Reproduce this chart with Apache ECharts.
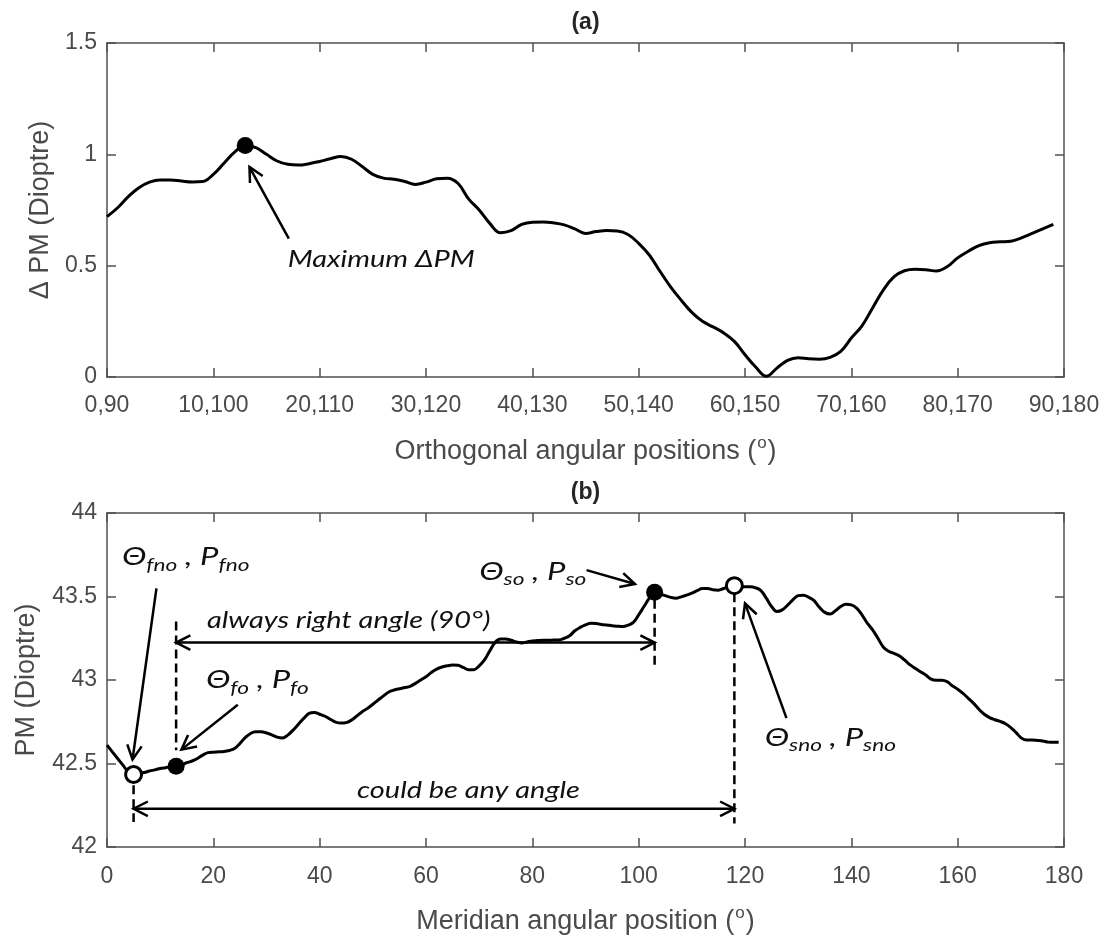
<!DOCTYPE html>
<html>
<head>
<meta charset="utf-8">
<script src="https://cdn.jsdelivr.net/npm/echarts@6/dist/echarts.min.js"></script>
<style>
  html, body { margin: 0; padding: 0; background: #fff; }
  #chart { width: 1112px; height: 940px; }
</style>
</head>
<body>
<div id="chart"></div>
<script>
// (a) Power difference between orthogonal meridians, first meridian 0..89 deg
const orthAngles = Array.from({ length: 90 }, (_, i) => i);
const deltaPM = [
  0.72, 0.76, 0.81, 0.85, 0.875, 0.885, 0.885, 0.88, 0.876, 0.878,
  0.91, 0.96, 1.01, 1.04, 1.03, 1.0, 0.97, 0.955, 0.952, 0.958,
  0.968, 0.98, 0.99, 0.978, 0.945, 0.91, 0.893, 0.888, 0.878, 0.865,
  0.875, 0.89, 0.893, 0.87, 0.80, 0.75, 0.69, 0.648, 0.657, 0.685,
  0.695, 0.696, 0.692, 0.683, 0.665, 0.645, 0.653, 0.658, 0.656, 0.64,
  0.60, 0.548, 0.475, 0.405, 0.345, 0.29, 0.25, 0.225, 0.198, 0.16,
  0.10, 0.045, 0.003, 0.04, 0.075, 0.087, 0.082, 0.08, 0.088, 0.115,
  0.175, 0.23, 0.31, 0.39, 0.45, 0.477, 0.484, 0.482, 0.476, 0.495,
  0.535, 0.565, 0.59, 0.603, 0.607, 0.61, 0.625, 0.645, 0.665, 0.685
];

// (b) Meridional power, 0..179 deg
const meridianAngles = Array.from({ length: 180 }, (_, i) => i);
const meridianPM = [
  42.61, 42.57, 42.53, 42.49, 42.45, 42.434, 42.44, 42.446, 42.455, 42.462,
  42.47, 42.475, 42.48, 42.483, 42.49, 42.505, 42.515, 42.53, 42.55, 42.565,
  42.568, 42.57, 42.572, 42.578, 42.59, 42.62, 42.655, 42.68, 42.69, 42.69,
  42.683, 42.672, 42.658, 42.653, 42.67, 42.70, 42.735, 42.77, 42.80, 42.806,
  42.795, 42.783, 42.765, 42.748, 42.742, 42.745, 42.76, 42.785, 42.81, 42.83,
  42.855, 42.88, 42.905, 42.928, 42.94, 42.948, 42.955, 42.962, 42.98, 43.0,
  43.02, 43.045, 43.065, 43.078, 43.085, 43.09, 43.088, 43.075, 43.062, 43.062,
  43.085, 43.12, 43.175, 43.225, 43.245, 43.245, 43.238, 43.228, 43.222, 43.228,
  43.234, 43.236, 43.238, 43.238, 43.239, 43.24, 43.25, 43.265, 43.295, 43.315,
  43.33, 43.34, 43.338, 43.333, 43.33, 43.325, 43.322, 43.32, 43.328, 43.345,
  43.39, 43.44, 43.49, 43.525, 43.515, 43.505, 43.495, 43.49, 43.498, 43.508,
  43.52, 43.535, 43.548, 43.548, 43.54, 43.538, 43.548, 43.56, 43.565, 43.562,
  43.558, 43.558, 43.552, 43.535, 43.49, 43.44, 43.41, 43.42, 43.448, 43.48,
  43.505, 43.508, 43.495, 43.475, 43.435, 43.405, 43.395, 43.415, 43.44, 43.453,
  43.45, 43.43, 43.39, 43.34, 43.30, 43.25, 43.198, 43.172, 43.16, 43.145,
  43.12, 43.092, 43.07, 43.05, 43.03, 43.005, 42.998, 42.998, 42.99, 42.965,
  42.945, 42.92, 42.89, 42.86, 42.825, 42.795, 42.775, 42.762, 42.752, 42.738,
  42.715, 42.685, 42.652, 42.64, 42.64, 42.638, 42.635, 42.628, 42.627, 42.627
];

// Tick labels
const orthTickLabels = ['0,90', '10,100', '20,110', '30,120', '40,130', '50,140', '60,150', '70,160', '80,170', '90,180'];
const deltaTickLabels = ['0', '0.5', '1', '1.5'];
const meridianTickLabels = ['0', '20', '40', '60', '80', '100', '120', '140', '160', '180'];
const pmTickLabels = ['42', '42.5', '43', '43.5', '44'];

// Marked meridians (degrees)
const maxDeltaAngle = 13;
const firstOrthAngle = 13;      // θfo
const secondOrthAngle = 103;    // θso
const firstNonOrthAngle = 5;    // θfno
const secondNonOrthAngle = 118; // θsno

const AXIS_GREY = '#505050';
const TEXT_GREY = '#4a4a4a';
const SANS = "'Liberation Sans', Arial, sans-serif";
const NOTE = "Lato, 'Open Sans', 'Noto Sans', sans-serif";
const NOTE_STRETCH = 1.26;

const axisLine = { show: true, onZero: false, lineStyle: { color: AXIS_GREY, width: 1.5 } };
const axisTick = { show: true, inside: true, length: 9, lineStyle: { color: AXIS_GREY, width: 1.5 } };
const tickLabel = { color: TEXT_GREY, fontSize: 23, fontFamily: SANS };

function superName(text) {
  return '{n|' + text + ' (}{s|o}{n|)}';
}
const nameRich = {
  n: { fontSize: 27, color: TEXT_GREY, fontFamily: SANS, lineHeight: 34 },
  s: { fontSize: 17, color: TEXT_GREY, fontFamily: SANS, lineHeight: 34, padding: [0, 1, 18, 1] }
};

function xPair(grid, min, max, interval, labels, name, labelMargin) {
  return [
    {
      gridIndex: grid, type: 'value', position: 'bottom', min, max, interval,
      axisLine, axisTick, splitLine: { show: false },
      axisLabel: Object.assign({ margin: labelMargin, formatter: v => labels[Math.round((v - min) / interval)] }, tickLabel),
      name: superName(name), nameLocation: 'middle', nameGap: 58,
      nameTextStyle: { rich: nameRich }
    },
    {
      gridIndex: grid, type: 'value', position: 'top', min, max, interval,
      axisLine, axisTick, axisLabel: { show: false }, splitLine: { show: false }
    }
  ];
}
function yPair(grid, min, max, interval, labels, name, gap) {
  return [
    {
      gridIndex: grid, type: 'value', position: 'left', min, max, interval,
      axisLine, axisTick, splitLine: { show: false },
      axisLabel: Object.assign({ margin: 10, formatter: v => labels[Math.round((v - min) / interval)] }, tickLabel),
      name, nameLocation: 'middle', nameGap: gap,
      nameTextStyle: { fontSize: 27, color: TEXT_GREY, fontFamily: SANS }
    },
    {
      gridIndex: grid, type: 'value', position: 'right', min, max, interval,
      axisLine, axisTick, axisLabel: { show: false }, splitLine: { show: false }
    }
  ];
}

const curveStyle = { color: '#000', width: 3 };

const option = {
  animation: false,
  backgroundColor: '#fff',
  grid: [
    { left: 107, top: 43, width: 957, height: 334, containLabel: false, outerBoundsMode: 'none' },
    { left: 107, top: 513, width: 957, height: 334, containLabel: false, outerBoundsMode: 'none' }
  ],
  xAxis: [
    ...xPair(0, 0, 90, 10, orthTickLabels, 'Orthogonal angular positions', 17),
    ...xPair(1, 0, 180, 20, meridianTickLabels, 'Meridian angular position', 18)
  ],
  yAxis: [
    ...yPair(0, 0, 1.5, 0.5, deltaTickLabels, 'Δ PM (Dioptre)', 51),
    ...yPair(1, 42, 44, 0.5, pmTickLabels, 'PM (Dioptre)', 67)
  ],
  series: [
    {
      type: 'line', xAxisIndex: 0, yAxisIndex: 0, showSymbol: false, smooth: 0.4,
      lineStyle: curveStyle, data: orthAngles.map((a, i) => [a, deltaPM[i]]), z: 3
    },
    {
      type: 'scatter', xAxisIndex: 0, yAxisIndex: 0, symbolSize: 17,
      itemStyle: { color: '#000', opacity: 1 },
      data: [[maxDeltaAngle, deltaPM[maxDeltaAngle]]], z: 5
    },
    {
      type: 'line', xAxisIndex: 2, yAxisIndex: 2, showSymbol: false, smooth: 0.4,
      lineStyle: curveStyle, data: meridianAngles.map((a, i) => [a, meridianPM[i]]), z: 3
    },
    {
      type: 'scatter', xAxisIndex: 2, yAxisIndex: 2, symbolSize: 17,
      itemStyle: { color: '#000', opacity: 1 },
      data: [firstOrthAngle, secondOrthAngle].map(a => [a, meridianPM[a]]), z: 5
    },
    {
      type: 'scatter', xAxisIndex: 2, yAxisIndex: 2, symbolSize: 16,
      itemStyle: { color: '#fff', borderColor: '#000', borderWidth: 3, opacity: 1 },
      data: [firstNonOrthAngle, secondNonOrthAngle].map(a => [a, meridianPM[a]]), z: 5
    }
  ]
};

const chart = echarts.init(document.getElementById('chart'), null, { renderer: 'canvas' });
chart.setOption(option);

// ---- annotations (placed in data coordinates of each panel) ----
const px = (g, x, y) => chart.convertToPixel({ gridIndex: g }, [x, y]);
const elements = [];

function stroke(points, dashed) {
  elements.push({
    type: 'polyline', z: 60,
    shape: { points },
    style: { stroke: '#000', lineWidth: 2.5, fill: null, lineDash: dashed ? [9, 5] : null }
  });
}
function head(tip, from) {
  const dx = from[0] - tip[0], dy = from[1] - tip[1];
  const L = Math.hypot(dx, dy), ux = dx / L, uy = dy / L;
  const a = 27 * Math.PI / 180, len = 16;
  const rot = s => [tip[0] + len * (ux * Math.cos(a) - uy * s * Math.sin(a)),
                    tip[1] + len * (ux * s * Math.sin(a) + uy * Math.cos(a))];
  stroke([rot(1), tip, rot(-1)]);
}
function arrow(g, from, to, both) {
  const p0 = px(g, from[0], from[1]), p1 = px(g, to[0], to[1]);
  stroke([p0, p1]);
  head(p1, p0);
  if (both) head(p0, p1);
}
function dashed(g, x, y0, y1) {
  stroke([px(g, x, y0), px(g, x, y1)], true);
}
function note(g, x, y, text, size) {
  const p = px(g, x, y);
  elements.push({
    type: 'text', z: 60, x: p[0], y: p[1], scaleX: NOTE_STRETCH,
    style: {
      text, fill: '#111', fontFamily: NOTE, fontStyle: 'italic', fontSize: size,
      align: 'left', verticalAlign: 'middle'
    }
  });
}
function symbolNote(g, x, y, sub) {
  const p = px(g, x, y);
  elements.push({
    type: 'text', z: 60, x: p[0], y: p[1], scaleX: NOTE_STRETCH,
    style: {
      text: '{m|Θ}{s|' + sub + '}{m| , P}{s|' + sub + '}',
      align: 'left', verticalAlign: 'middle',
      rich: {
        m: { fontFamily: NOTE, fontStyle: 'italic', fontSize: 26, fill: '#111', lineHeight: 34 },
        s: { fontFamily: NOTE, fontStyle: 'italic', fontSize: 18, fill: '#111', lineHeight: 34, padding: [16, 0, 0, 0] }
      }
    }
  });
}
function title(g, text) {
  const p = px(g, g === 0 ? 45 : 90, g === 0 ? 1.5 : 44);
  elements.push({
    type: 'text', z: 60, x: p[0], y: p[1] - 20,
    style: { text, fill: '#262626', fontFamily: SANS, fontWeight: 'bold', fontSize: 23, align: 'center', verticalAlign: 'middle' }
  });
}

title(0, '(a)');
title(1, '(b)');

// panel (a)
arrow(0, [17.1, 0.621], [13.4, 0.943]);
note(0, 17.0, 0.528, 'Maximum ΔPM', 23);

// panel (b)
dashed(1, firstOrthAngle, 43.35, 42.58);
dashed(1, secondOrthAngle, 43.48, 43.09);
dashed(1, firstNonOrthAngle, 42.37, 42.15);
dashed(1, secondNonOrthAngle, 43.52, 42.14);
arrow(1, [firstOrthAngle, 43.224], [secondOrthAngle, 43.224], true);
arrow(1, [firstNonOrthAngle, 42.229], [secondNonOrthAngle, 42.229], true);
note(1, 18.8, 43.353, 'always right angle (90°)', 23);
note(1, 47.0, 42.337, 'could be any angle', 23);

arrow(1, [9.3, 43.549], [4.8, 42.524]);
arrow(1, [24.6, 42.852], [14.0, 42.583]);
arrow(1, [90.2, 43.658], [99.3, 43.575]);
arrow(1, [127.8, 42.772], [120.0, 43.459]);
symbolNote(1, 2.8, 43.736, 'fno');
symbolNote(1, 18.6, 43.0, 'fo');
symbolNote(1, 70.0, 43.652, 'so');
symbolNote(1, 123.7, 42.658, 'sno');

chart.setOption({ graphic: { elements } });
</script>
</body>
</html>
